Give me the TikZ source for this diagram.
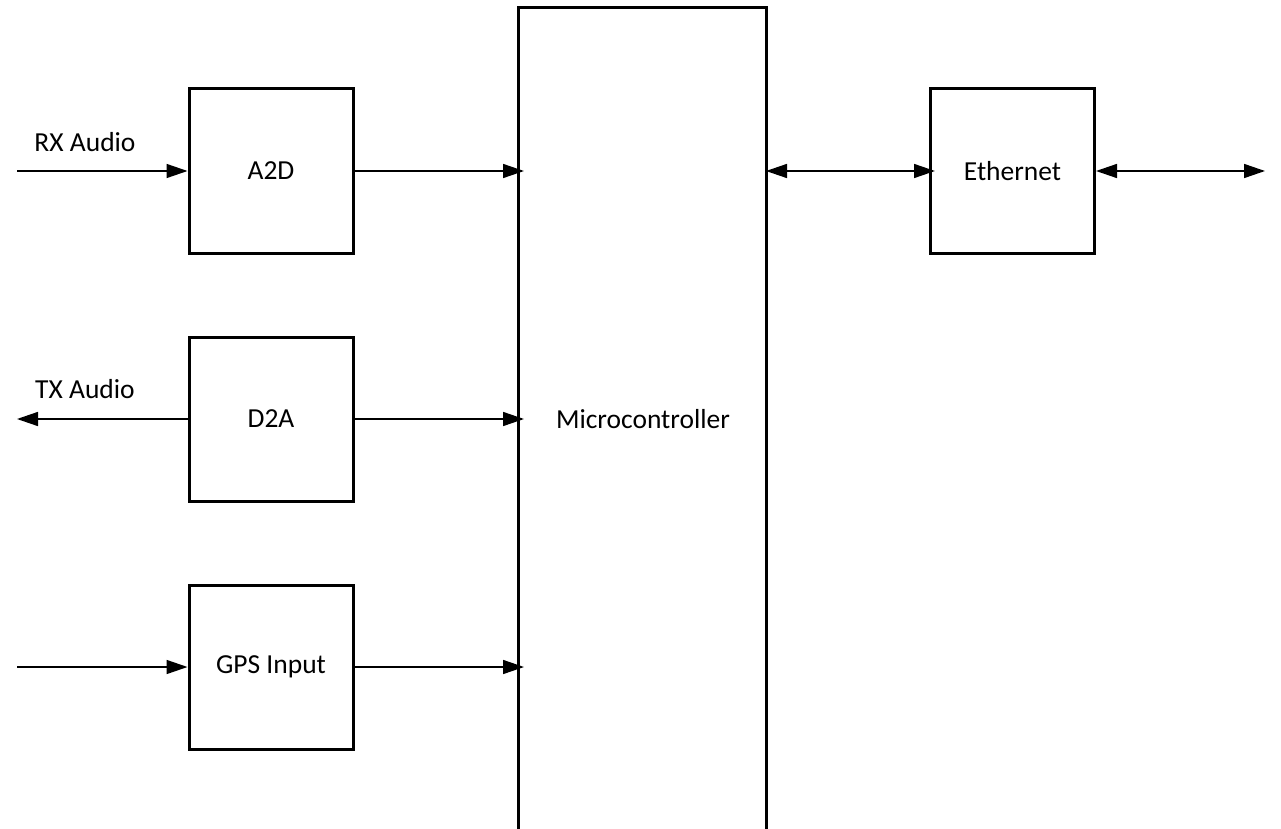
\documentclass[tikz,border=0pt]{standalone}
\usepackage{fontspec}
\setmainfont{Carlito}
\usetikzlibrary{arrows.meta}
\begin{document}
\begin{tikzpicture}[x=1pt,y=-1pt,
  blk/.style={draw, line width=3pt, minimum width=164pt, minimum height=164pt, inner sep=0pt, font=\fontsize{27.5}{32}\selectfont},
  lbl/.style={font=\fontsize{27.5}{32}\selectfont, inner sep=0pt},
  arr/.style={line width=1.5pt, -{Triangle[length=21pt,width=14pt]}},
  darr/.style={line width=1.5pt, {Triangle[length=21pt,width=14pt]}-{Triangle[length=21pt,width=14pt]}}]
\useasboundingbox (0,0) rectangle (1281,829);
\node[blk] (a2d) at (271,171) {A2D};
\node[blk] (d2a) at (271,419) {D2A};
\node[blk] (gps) at (271,667) {GPS Input};
\node[blk] (eth) at (1012.5,171) {Ethernet};
\node[lbl] (mc) at (643,419) {Microcontroller};
\coordinate (mctl) at (518,8);
\coordinate (mctr) at (766,8);
\coordinate (mcbl) at (518,832);
\coordinate (mcbr) at (766,832);
\draw[line width=3pt, line join=miter] (mcbl) -- (mctl) -- (mctr) -- (mcbr);
\coordinate (rxin) at (17,171);
\coordinate (txout) at (17,419);
\coordinate (gpsin) at (17,667);
\coordinate (ethout) at (1265,171);
\node[lbl] (rxl) at (85,142) {RX Audio};
\node[lbl] (txl) at (85,389) {TX Audio};
\draw[arr] (rxin) -- (a2d.west);
\draw[arr] (d2a.west) -- (txout);
\draw[arr] (gpsin) -- (gps.west);
\draw[arr, shorten >=-6pt] (a2d.east) -- (mctl |- a2d.east);
\draw[arr, shorten >=-6pt] (d2a.east) -- (mctl |- d2a.east);
\draw[arr, shorten >=-6pt] (gps.east) -- (mctl |- gps.east);
\draw[darr, shorten >=-6pt] (mctr |- eth.west) -- (eth.west);
\draw[darr] (eth.east) -- (ethout);
\end{tikzpicture}
\end{document}
